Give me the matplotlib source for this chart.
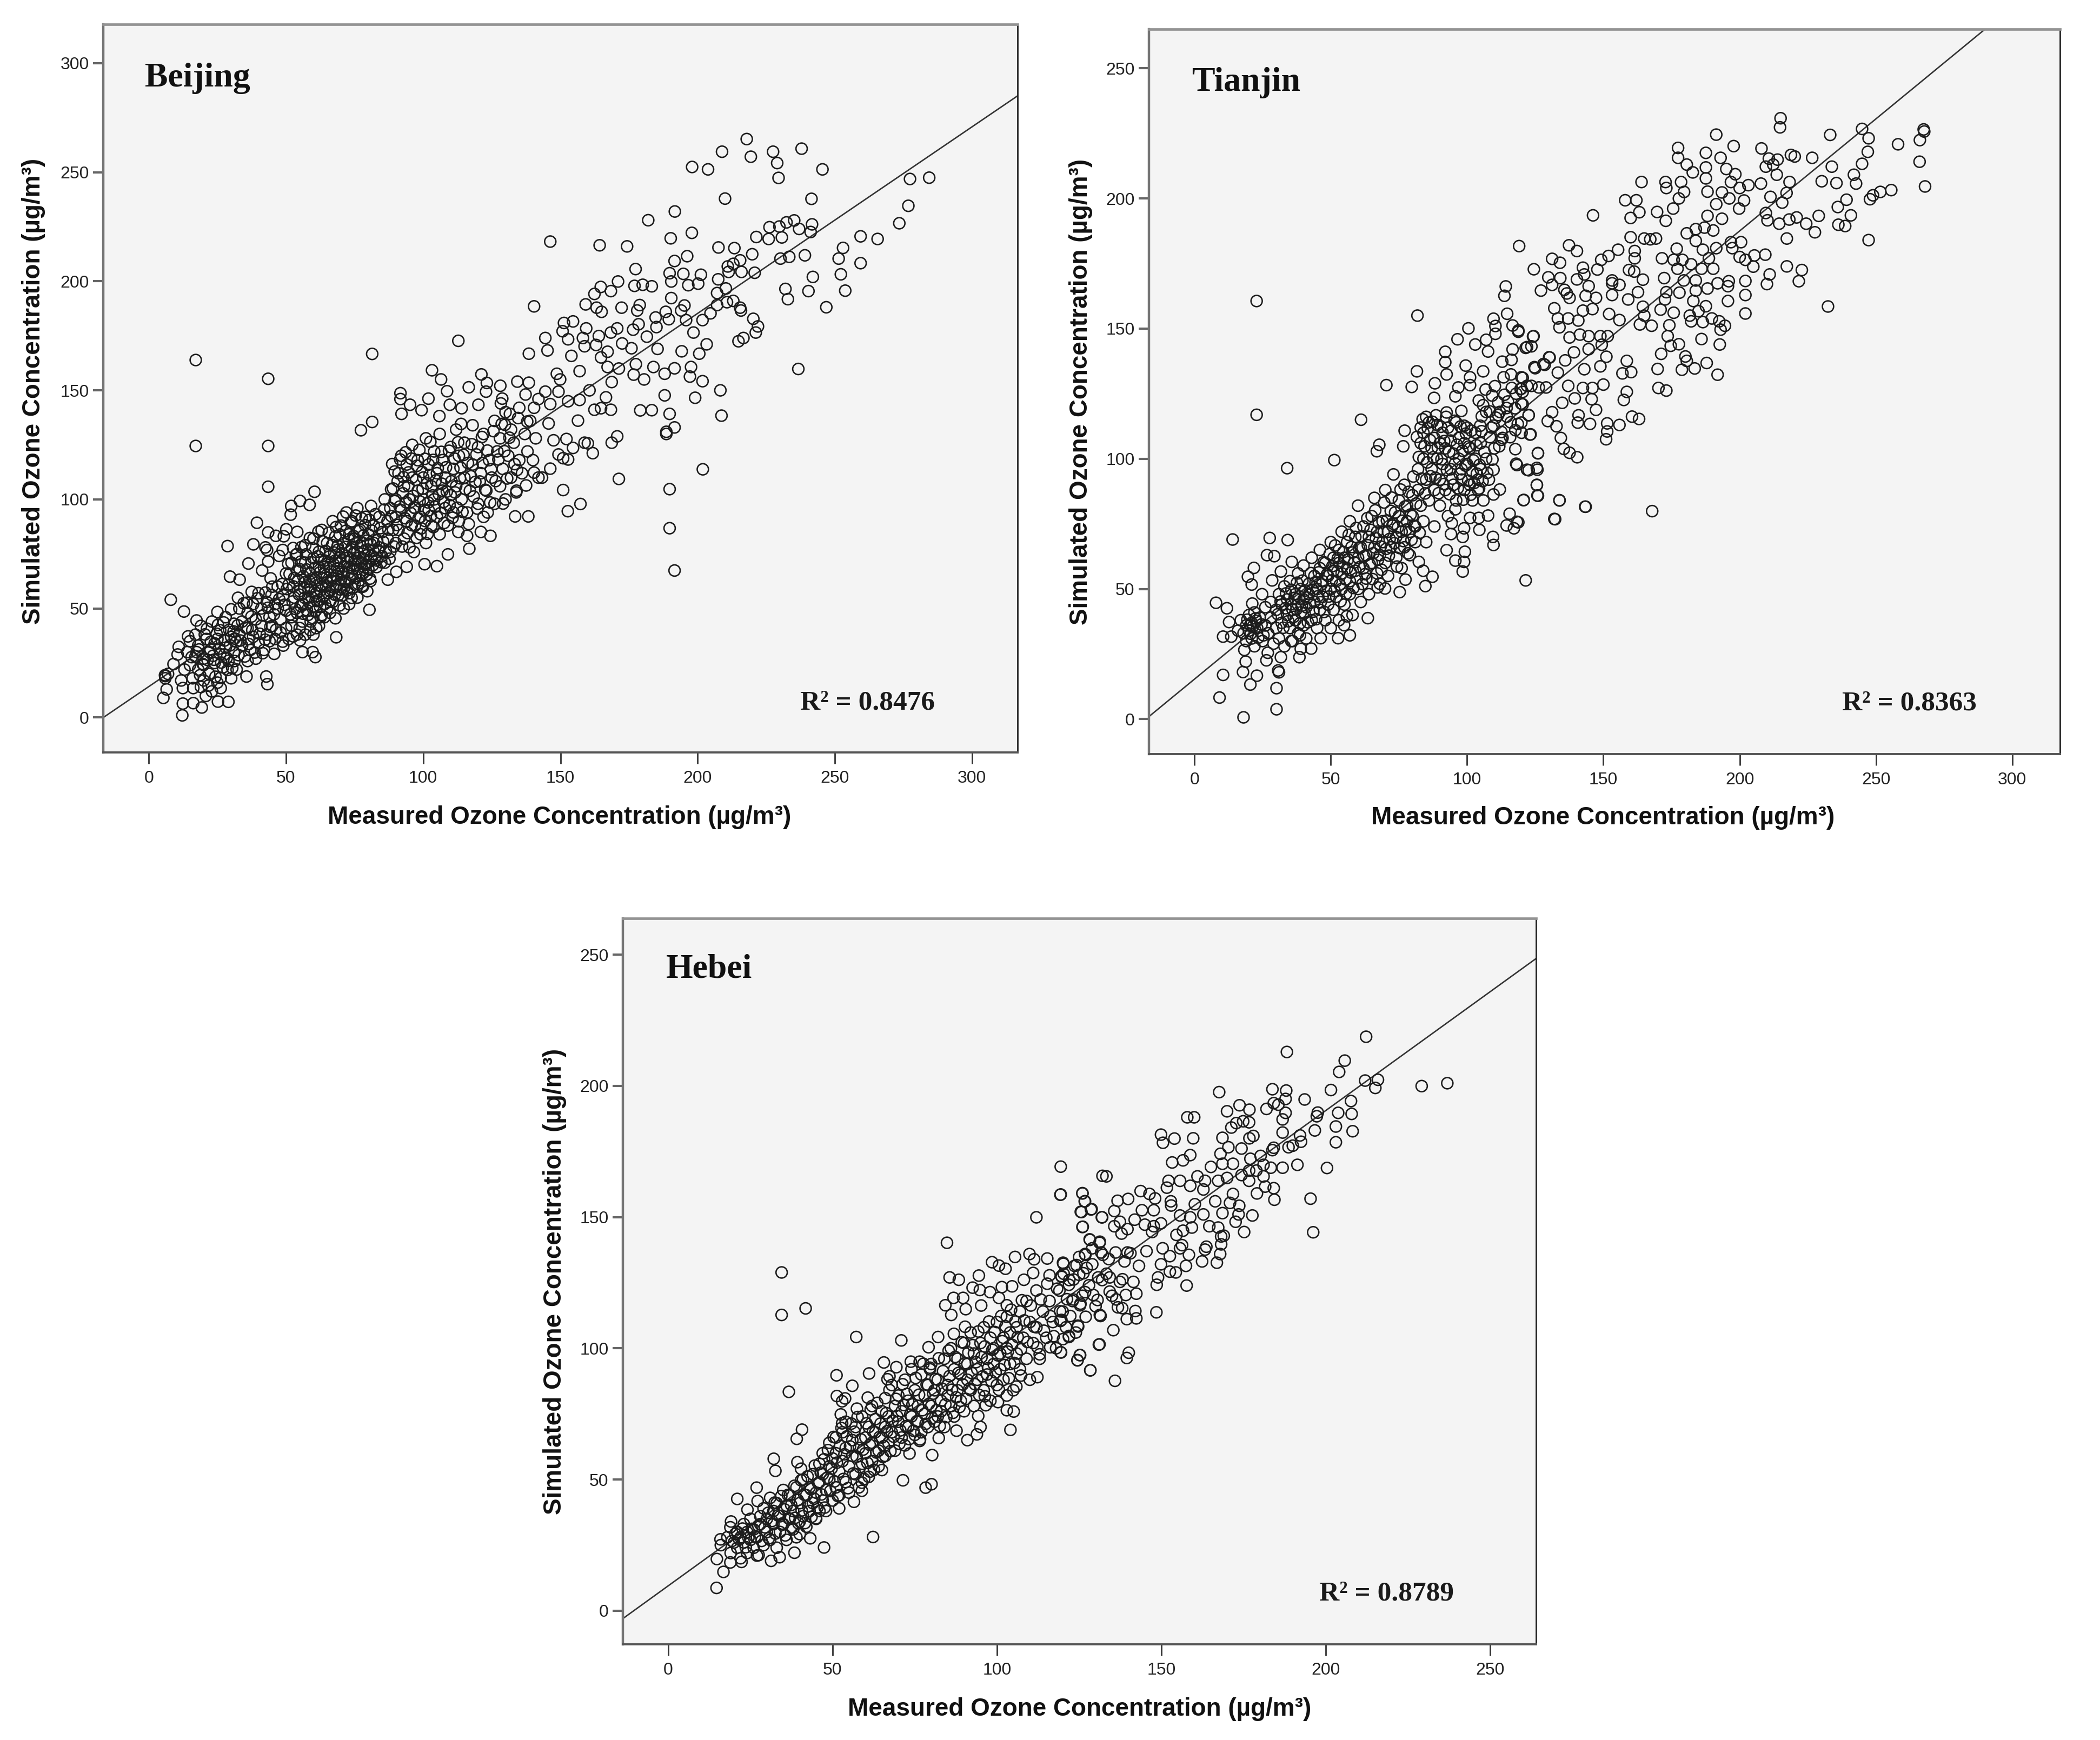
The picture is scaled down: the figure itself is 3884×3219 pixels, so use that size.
import matplotlib
matplotlib.use("Agg")
import matplotlib.pyplot as plt

W, H = 3884, 3219
DPI = 100
X_LABEL = "Measured Ozone Concentration (µg/m³)"
Y_LABEL = "Simulated Ozone Concentration (µg/m³)"

# ---------- Beijing ----------
bj_name = "Beijing"
bj_r2 = "R² = 0.8476"
bj_xticks = [0, 50, 100, 150, 200, 250, 300]
bj_yticks = [0, 50, 100, 150, 200, 250, 300]
bj_fit_x = [-16.6, 316.6]
bj_fit_y = [0, 285]
bj_high = [(217.9,265.2),(208.9,259.4),(219.4,257.1),(227.5,259.4),(229,254.2),(237.9,260.8),(245.5,251.3),(229.5,247.4),(198,252.4),(203.8,251.3),(210,237.9),(241.5,237.8),(277.4,246.9),(284.4,247.5),(276.8,234.6),(273.5,226.6),(265.6,219.4),(259.4,220.6),(253,215.3),(251.4,210.4),(259.4,208.3),(252.2,203.2),(253.8,195.7),(246.9,188.1),(242,202),(240.4,195.5),(232,196.5),(232.9,191.8),(239.1,211.9),(233.4,211.2),(230.2,210.4),(241.7,226.1),(241.2,222.6),(237,224),(235.2,227.9),(232.4,227),(229.8,225.1),(226.2,224.8),(230.7,220.1),(225.9,219.4),(221.4,220.3),(236.7,159.8),(219.9,212.4),(213.4,215.2),(207.6,215.5),(215.5,209.6),(213,208),(211,206.8),(211.3,204.3),(216,204.3),(220.8,203.9),(207.5,200.9),(210.3,196.7),(207.1,194.6),(213,191),(210.7,190.4),(215.5,187.9),(215.8,186.6),(207.1,189.1),(204.7,185.3),(201.8,182.2),(198.5,176.5),(203.3,171.1),(200.6,166.8),(194.2,167.9),(220.3,182.8),(222,179.3),(221.2,176.5),(216.7,174),(214.9,172.5),(208.3,150),(208.7,138.4),(199.1,146.6),(201.8,154.2),(197.6,160.7),(197.2,156.3),(189.8,139.2),(188,147.7),(191.6,133),(188.6,131),(183.3,140.9),(179.1,140.8),(146.3,218.2),(164.3,216.5),(174.3,216),(182,228),(191.7,232),(190.2,219.7),(197.9,222.2),(196.2,211.5),(191.6,209.3),(177.4,205.6),(189.8,203.7),(194.8,203.4),(201.2,203),(190.4,199.9),(196.6,198.2),(200.2,198.9),(183.3,197.7),(180,198.4),(177,197.9),(171,199.9),(168.4,195.5),(164.7,197.4),(162.4,194.2),(159.2,189.4),(163.2,187.9),(165,186),(172.3,187.9),(178.9,189.1),(178,186.6),(190.4,192.3),(195.2,188.9),(194,186.6),(188.4,186),(184.7,183.4),(189.5,182.6),(195.8,182.2),(185,179),(178.5,180.3),(176.5,177.8),(170.7,178.4),(168.4,176.5),(164,174.9),(159.4,178.4),(154.6,181.6),(151.3,180.9),(150.8,177.1),(152.8,173.4),(158.2,174),(158.8,170.2),(163,170.8),(172.5,171.5),(175.9,169.3),(185.4,169),(181.5,174.6),(167.2,167.7),(154,165.8),(144.5,174),(145.3,168.3),(176.7,157.2),(180.5,155),(188,157.6),(191.6,160.1),(183.9,160.7),(177.5,162),(171.3,160),(167.2,160.7),(164.8,165.1),(157,158.8),(148.7,157.6),(149.9,155),(160.6,150),(166.6,146.8),(168.7,153.8),(168.4,141.1),(164.8,141.8),(162.4,141.1),(157,145.6),(152.8,145),(149.3,149.4),(144.5,149.4),(145.7,134.8),(156.4,136.1),(146.3,143.7)]
bj_right = [(201.9,113.8),(171.3,109.4),(189.8,104.7),(189.8,86.8),(191.6,67.4),(151,104.3),(157.3,97.9),(152.7,94.6),(161.8,121.2),(188.6,130),(168.7,126),(170.7,128.9),(160,125.7),(158.8,126),(152.8,118.3),(151,118.9),(149.3,120.6),(147.5,127.1),(146.3,114.1),(143.3,110),(152.2,127.7),(154.6,123.6)]
bj_upper = [(17.1,163.9),(43.5,155.3),(81.4,166.7),(112.8,172.7),(140.4,188.5),(103.2,159.2),(106.5,155),(108.7,149.6),(116.6,151.4),(121.2,157.3),(123.2,153.4),(122.9,149.4),(128.1,152.1),(134.3,154),(138.5,153.5),(138.5,166.8),(101.9,146.2),(95.2,143.4),(91.7,148.7),(91.7,146),(92.1,139.2),(99.4,140.9),(105.9,138.2),(109.7,143.4),(114,141.8),(113.8,134.6),(120.1,143.4),(81.4,135.5),(128.8,146.2),(128.3,144),(137.3,148.1),(140.4,142),(131.6,139.2),(129.8,134.2),(137.9,135.7),(77.3,131.7),(17.1,124.5),(43.5,124.5),(43.5,105.8),(60.4,103.5)]
bj_edges = [(8,54),(12.8,48.6),(17.4,44.5),(14.3,37.2),(25,48.4),(28.7,78.6),(38.1,79.4),(39.4,89.3),(43.5,84.9),(51.9,97),(51.7,93),(55.1,99.3),(58.6,97.5),(54.1,85.1),(50.1,86.3),(49.2,83.1),(46.3,83.3),(42.5,78),(43.1,76.8),(52.6,77.7),(48.8,76.8),(47.5,74.1),(43.5,71.5),(36.3,70.6),(41.3,67.4),(29.6,64.6),(33.1,63.2),(44.4,63.8),(37.5,57.6),(42.5,57.3),(32.5,54.9),(30,49.6),(35.6,52.6),(25.2,42.5),(21.2,40.7),(10.9,32.4),(10.5,28.9),(9,24.5),(5.9,19.4),(6.5,12.9),(5.3,9),(12.4,6.4),(16.2,6.6),(12.2,1),(19.3,4.6),(25.2,7.3),(29,7.2),(20.8,9.9),(26.2,13.5),(16.2,13.5),(11.8,17),(12.4,13.5),(18.7,19.4),(26.2,18.2),(28.7,21.8),(31.2,25.9),(27.5,28.9),(23.7,26.5),(17.4,30),(15.6,27.7),(20,24.1),(22.5,31.2),(25,36),(31.9,34.8),(30.9,39.5),(36.3,36),(36,25.9),(35.6,18.8),(42.8,18.8),(43.2,15.3),(41.5,29.5),(45.7,29.2),(48.8,34.8),(55.1,35.4),(56,30),(59.7,30),(60.7,27.7),(68.3,36.8),(68,45.5),(58.8,40.1),(52.6,37.2),(80.4,49.4),(73.9,54.9),(69.5,51.4),(62.6,46),(79.6,57.9),(87.1,63.2),(80.8,62.6),(90.2,66.8),(94,69.1),(100.5,70.3),(105,69.4),(109,74.8),(116.8,77.4),(124.5,83.3),(121,85.1),(116,83.3),(112.8,85.1),(123.5,94),(133.5,92.2),(138.3,92.2),(129.1,98.1),(133.9,103.2),(137.5,106.4),(140.4,112.3),(134.2,113.5)]
bj_core = [(46,52),(47,60),(48,45),(49,56),(50,66),(50,49),(51,61),(52,42),(52,71),(53,55),(53,64),(54,48),(54,75),(55,58),(55,68),(56,44),(56,52),(57,62),(57,79),(57,71),(58,55),(58,47),(59,66),(59,60),(60,82),(60,73),(60,51),(61,41),(61,57),(61,64),(62,69),(62,76),(62,54),(63,60),(63,47),(63,86),(64,66),(64,72),(64,56),(65,80),(65,62),(65,50),(66,69),(66,58),(66,75),(67,64),(67,90),(67,53),(68,72),(68,60),(68,83),(69,67),(69,77),(69,56),(70,63),(70,88),(70,71),(71,59),(71,80),(71,66),(72,74),(72,94),(72,62),(73,69),(73,84),(73,57),(74,78),(74,65),(74,90),(75,72),(75,61),(75,82),(76,68),(76,76),(76,96),(77,86),(77,63),(78,73),(78,80),(78,66),(79,92),(79,70),(80,77),(80,84),(80,68),(81,74),(81,97),(82,88),(82,80),(83,72),(83,69),(84,92),(84,78),(85,85),(85,74),(86,100),(86,71),(87,82),(87,90),(88,76),(88,96),(89,86),(89,105),(90,80),(90,92)]
bj_core2 = [(47.5,54.3),(48.6,61.2),(49.4,51.7),(50.3,58.9),(50.8,70.4),(51.6,47.3),(51.3,65.8),(52.4,53.2),(52.7,60.1),(53.4,49.8),(53.6,74.6),(54.2,67.3),(54.7,56.4),(54.4,62.9),(55.3,51.2),(55.6,78.1),(55.4,71.5),(56.2,47.6),(56.6,59.3),(56.3,64.7),(56.8,54.9),(57.3,74.8),(57.6,49.2),(57.4,67.9),(58.2,58.6),(58.4,52.8),(58.6,62.4),(58.7,82.3),(59.3,71.2),(59.6,45.7),(59.4,55.1),(59.7,77.6),(60.2,63.3),(60.4,57.8),(60.6,68.7),(60.8,48.9),(61.3,53.4),(61.6,73.9),(61.4,60.6),(61.8,85.2),(62.2,66.4),(62.4,50.7),(62.6,58.2),(62.8,72.3),(63.2,63.7),(63.4,80.8),(63.6,55.3),(63.8,68.9),(64.2,52.1),(64.4,76.4),(64.6,60.4),(64.8,64.2),(65.2,70.6),(65.4,57.1),(65.6,84.7),(65.8,73.8),(66.2,53.6),(66.4,62.8),(66.6,66.9),(66.8,79.1),(67.2,59.7),(67.4,70.2),(67.6,75.6),(67.8,56.3),(68.2,87.3),(68.4,64.9),(68.6,68.4),(68.8,78.6),(69.2,61.2),(69.4,73.1),(69.6,83.9),(69.8,58.7),(70.2,66.7),(70.4,75.4),(70.6,55.9),(70.8,92.1),(71.2,69.3),(71.4,62.7),(71.6,78.2),(71.8,85.6),(72.2,58.3),(72.4,71.6),(72.6,66.1),(72.8,81.7),(73.2,76.2),(73.4,63.5),(73.6,89.4),(73.8,72.4),(74.2,59.2),(74.4,68.3),(74.6,83.2),(74.8,75.6),(75.2,64.8),(75.4,92.6),(75.6,70.1),(75.8,79.8),(76.2,61.3),(76.4,85.4),(76.6,73.2),(76.8,66.4),(77.2,78.7),(77.4,70.6),(77.6,91.3),(77.8,60.4),(78.2,83.4),(78.4,76.1),(78.6,68.8),(78.8,88.2),(79.2,74.3),(79.4,65.6),(79.6,81.1),(80.2,71.4),(80.4,90.6),(80.6,63.7),(80.8,79.6),(81.2,85.7),(81.6,69.8),(81.8,76.4),(82.3,72.9),(82.6,93.2),(83.2,81.3),(83.6,76.7),(84.3,86.8),(84.7,71.2),(85.4,80.6),(85.8,95.3),(86.4,76.3),(87.3,86.2),(87.7,72.8),(88.4,92.3),(89.3,78.4),(89.6,99.2)]
bj_mid = [(90,100),(91,112),(91,86),(92,120),(92,95),(93,82),(93,106),(94,90),(94,116),(95,100),(95,78),(96,110),(96,125),(97,88),(97,96),(98,104),(98,118),(99,84),(99,92),(100,110),(100,100),(101,128),(101,80),(102,95),(102,116),(103,106),(103,88),(104,122),(104,100),(105,112),(105,92),(106,84),(106,130),(107,104),(107,118),(108,96),(108,110),(109,88),(110,124),(110,102),(111,94),(111,114),(112,106),(112,132),(113,90),(113,120),(114,100),(115,110),(115,126),(116,94),(117,104),(118,116),(118,134),(119,108),(120,98),(120,124),(121,112),(122,92),(122,130),(123,104),(124,118),(125,110),(126,136),(126,98),(127,122),(128,106),(128,128),(129,114),(130,100),(130,140),(131,120),(132,110),(132,132),(133,126),(134,104),(135,118),(135,142),(136,112),(137,130),(138,122),(139,136),(140,118),(141,128),(142,146),(142,110)]
bj_mid2 = [(88.3,104.6),(88.7,116.2),(89.6,112.8),(90.4,88.3),(90.7,108.4),(91.4,96.7),(91.6,118.3),(92.3,78.4),(92.6,102.8),(92.8,110.2),(93.3,91.4),(93.6,121.6),(93.8,98.7),(94.3,84.6),(94.6,106.2),(94.7,112.4),(95.4,93.8),(95.6,118.7),(95.8,88.2),(96.3,101.6),(96.6,75.9),(96.7,96.3),(97.4,108.9),(97.6,82.4),(97.7,115.4),(98.3,91.3),(98.6,122.7),(98.7,99.1),(99.3,86.7),(99.6,112.6),(99.8,104.9),(100.3,95.2),(100.6,118.6),(100.7,90.1),(101.4,107.3),(101.6,84.2),(101.8,98.6),(102.3,111.2),(102.6,126.4),(102.8,92.3),(103.4,101.8),(103.6,118.1),(103.7,87.3),(104.3,96.6),(104.6,108.7),(105.3,114.3),(105.7,102.4),(106.3,93.7),(106.6,121.8),(106.8,107.2),(107.4,98.8),(107.6,89.2),(108.3,114.7),(108.6,103.6),(109.4,122.3),(109.6,97.4),(110.3,108.3),(110.7,91.6),(111.4,118.7),(111.6,103.2),(112.4,96.2),(112.7,126.2),(113.4,109.7),(113.6,114.6),(114.3,94.3),(114.7,120.4),(115.4,104.7),(116.3,116.7),(116.6,88.7),(117.4,110.6),(117.7,125.3),(118.4,101.3),(119.4,120.6),(119.7,95.8),(120.6,108.2),(121.4,128.6),(121.6,116.7),(122.6,104.4),(123.4,122.4),(124.4,98.6),(124.7,113.8),(125.6,131.3),(126.4,108.4),(127.4,118.3),(128.6,134.6),(129.6,122.1),(130.6,109.6),(131.4,128.3),(133.3,116.2),(134.6,137.3)]
bj_low = [(6,19),(7,20),(6,18),(13,22),(14,30),(15,24),(15,35),(16,18),(17,28),(17,38),(18,22),(18,33),(19,14),(19,42),(20,27),(20,17),(21,36),(22,30),(22,20),(23,44),(23,12),(24,25),(24,34),(25,16),(26,40),(26,29),(27,23),(28,32),(28,46),(29,26),(30,37),(30,18),(31,43),(31,30),(32,22),(33,50),(33,38),(34,33),(34,44),(35,28),(36,48),(36,41),(37,31),(38,52),(38,37),(39,45),(39,27),(40,34),(40,57),(41,42),(41,50),(42,31),(43,38),(43,53),(44,46),(44,35),(45,60),(45,42),(46,36),(47,50),(48,39),(49,33),(50,41),(51,36),(52,46),(54,38),(55,41),(57,38),(59,44),(60,38),(62,42),(64,46),(66,48),(71,50),(73,52),(76,55),(78,60)]
bj_low2 = [(18.3,31.2),(19.6,24.6),(20.4,38.1),(21.4,26.4),(21.7,14.6),(22.6,34.7),(23.4,28.3),(24.3,18.7),(24.7,38.4),(25.6,31.6),(26.4,25.2),(27.3,43.6),(27.6,35.3),(28.4,27.4),(29.3,40.2),(29.6,33.1),(30.4,22.7),(31.3,36.2),(32.4,42.3),(32.7,28.6),(33.4,35.3),(34.6,52.4),(35.3,41.2),(36.4,33.7),(37.4,46.3),(37.7,40.1),(38.6,29.8),(39.6,54.7),(40.4,38.4),(41.6,46.8),(42.4,35.7),(43.4,50.3),(44.3,41.6),(44.7,56.2),(45.6,47.3),(46.4,40.3)]

# ---------- Tianjin ----------
tj_name = "Tianjin"
tj_r2 = "R² = 0.8363"
tj_xticks = [0, 50, 100, 150, 200, 250, 300]
tj_yticks = [0, 50, 100, 150, 200, 250]
tj_fit_x = [-16.7, 290]
tj_fit_y = [1, 265]
tj_high = [(215,230.8),(214.8,227.3),(233.2,224.4),(244.9,226.7),(247.3,223.1),(247,217.9),(244.9,213.3),(258.1,220.8),(267.5,226.5),(267.7,225.7),(266.1,222.4),(266,214.1),(268,204.6),(255.6,203.2),(251.6,202.5),(248.9,201.2),(247.8,199.7),(247.3,184),(239.2,199.5),(236,196.7),(240.8,193.5),(236.2,189.9),(238.7,189.4),(229,193.3),(227.6,187),(224.4,190.3),(220.9,192.7),(218.2,191.9),(214.5,190.3),(217.3,184.6),(210.2,191.6),(209.6,194.4),(215.6,198.4),(211.3,200.6),(217.2,202.1),(218.3,206.3),(230.1,206.6),(235.5,205.9),(242.7,205.7),(241.9,209.1),(233.8,212.2),(226.6,215.6),(220.2,216.1),(218.8,216.7),(213.9,214.9),(210.7,215.3),(208,219.2),(212.3,213),(209.6,212.2),(213.6,209.1),(207.8,205.7),(203.2,205.1),(200,204),(198.4,209.3),(196.8,206.3),(197.8,220.1),(195.1,211.3),(193,215.6),(191.4,224.5),(187.6,217.5),(187.6,211.9),(187.6,207.7),(188.2,202.6),(182.8,210),(180.6,213),(177.4,219.4),(177.4,215.6),(178.5,206.3),(179.6,202.5),(177.7,200),(175.6,196.1),(172.8,206.3),(173.1,204),(169.7,194.8),(172.9,191.4),(164,206.3),(158,199.3),(162.1,199.3),(163.2,194.7),(160,192.5),(146.2,193.5),(160,185.1),(165,184.6),(167.2,184.3),(169.3,184.6),(119.1,181.7),(137.4,182),(140.3,179.8),(131.2,176.8),(134.1,175.3),(124.5,172.8),(155.4,180.3),(151.9,177.9),(149.2,176.4),(147.8,172.7),(142.5,173.4),(143,170.8),(140.3,168.9),(129.8,169.7),(134.2,169.4),(131.2,166.8),(127.1,164.6),(135.7,164.9),(136.6,163.5),(137.6,161.8),(144.6,166.3),(143.5,162.6),(147.3,161.8),(153.2,168.5),(153.2,167.4),(155.9,166.8),(153.2,162.9),(159.1,161.2),(162.7,164),(161.5,177),(161.5,179.8),(159.4,172.5),(161.3,171.9),(164.5,168.8),(171.5,177),(176.9,180.7),(175.8,176.4),(179,176.4),(182.2,174.7),(177.2,173),(172.3,169.4),(179.5,168.5),(177.9,163.8),(183.9,168.5),(183.9,164.6),(183,160.6),(188.2,165.4),(191.9,167.4),(196,168.2),(195.7,166.3),(195.7,160.6),(202.1,168.3),(202.1,162.9),(202.1,155.8),(205,173.8),(205.4,178.1),(209.4,178.4),(211,170.8),(210,167.1),(217.3,173.9),(222.8,172.5),(221.7,168.2),(232.4,158.5),(200.5,183.2),(196.8,183.2),(197.3,180.9),(200,177.5),(202.1,176.4),(190.3,173),(186,173),(188.7,177),(191.4,180.9),(186.5,180.3),(183.9,183.7),(180.6,186.6),(183.9,188.2),(187.1,188.8),(190.3,187.7),(193.5,192.2),(188.2,193.3),(191.4,197.8),(193.5,202.3),(196.2,200),(201.6,199.2),(199.8,196.1)]
tj_mid = [(173.1,164),(172.6,161.2),(171,157.3),(175.8,156.1),(164.5,158.4),(165,155),(152.1,155.6),(155.9,153.3),(163.4,151.6),(167.7,151.1),(174.2,151.3),(181.7,155),(182.2,152.8),(184.9,156.7),(187.6,158.6),(186.5,152.5),(189.8,153.9),(192.5,152.8),(194.6,151.1),(193,149.6),(186,146),(192.7,143.9),(173.6,147.1),(177.7,144),(174.7,143.4),(171.2,140.3),(180.1,139.3),(180.6,137.6),(187.9,136.8),(183.5,134.7),(178.8,134.2),(169.9,134.5),(191.9,132.3),(158.6,137.6),(160.2,133.3),(157,132.8),(170.2,127.2),(173.1,126.2),(158.6,125.7),(157.5,122.6),(160.5,116.2),(163.1,115.3),(155.9,113),(151.4,113.6),(151.4,110.5),(151,107.5),(145.1,113.4),(140.6,113.9),(140.9,116.7),(147.3,118.8),(145.7,122.9),(150,128.5),(146,127.2),(142.5,127.2),(139.5,123.2),(134.9,121.5),(137.1,128),(131.2,117.9),(129.6,114.5),(132.8,112.5),(134.4,108),(135.5,103.8),(137.6,102.3),(140.4,100.6),(126,102.1),(125.6,96.5),(122.6,95.6),(118.3,97.6),(125.6,89.9),(126,85.8),(120.7,84.1),(133.9,84.1),(143.5,81.6),(167.9,79.9),(132.3,76.8),(118.8,75.6),(126.3,127.4),(123.6,128),(129,127.4),(125,134.8),(120.4,131.1),(119.9,126.9),(120.4,120.9),(122.6,116.8),(119.9,113.9),(123.3,109.4),(133.3,133.1),(128.5,136.1),(130.3,138.9),(136,137.8),(139.2,140.9),(143,134.4),(148.9,135.5),(151.1,139.2),(149.4,143.8),(144.6,142.1),(144.6,147.1),(141.4,147.7),(137.6,146.6),(148.9,147.1),(151.6,147.1),(133.9,150.5),(133.3,153.9),(137.1,153.9),(140.8,153.1),(142.5,156.9),(146,157.5),(132,157.8),(124.4,147.1),(123.6,143.2),(121.5,142.6),(118.8,148.8)]
tj_edges = [(22.8,160.6),(22.8,116.9),(81.8,155),(81.6,133.6),(70.4,128.3),(79.7,127.6),(61.1,115),(51.3,99.5),(34,96.4),(67.8,105.4),(66.9,102.9),(76.6,104.8),(77.1,110.8),(14,69),(27.6,69.6),(34.2,68.8),(26.6,63),(29.3,62.6),(21.8,58.1),(19.6,54.7),(21,51.7),(24.8,48),(28.5,53.3),(31.7,56.7),(35.7,60.4),(21.2,44.4),(7.9,44.7),(11.9,42.6),(12.7,37.3),(10.5,31.7),(13.5,31.7),(20.4,36.1),(22.6,37.8),(18.3,26.6),(18.8,22.1),(17.8,18.1),(10.5,17),(22.9,16.7),(20.5,13.3),(30.7,18.7),(31,18),(30.1,11.9),(9.2,8.3),(30.1,3.8),(18,0.7),(26.4,22.6),(26.9,25.5),(31.7,23.8),(38.5,23.8),(42.8,27.1),(52.7,31.1),(57,32.2),(63.6,38.8),(38.7,32.2),(35.5,30),(25.3,32.2),(46.3,31.1),(55.9,39.5),(54.9,36.1),(121.5,53.3),(98.4,56.7),(98.9,60.4),(95.7,60.9),(99.2,64.3),(92.5,64.9),(87.3,54.7),(84.7,51.1),(83.9,57),(82.3,60.4),(75.3,48.8),(77.4,53.6),(69.9,50.2),(67.2,50.6),(109.7,66.9),(109.5,70),(104.5,72.7),(98.9,73.3),(98.4,70),(94.1,71.1),(94.4,75.3),(95.7,80.6),(101.1,77.3),(104.3,77.3),(107.7,78.2),(115.6,78.9),(114.5,74.4),(117.2,73.3),(118.3,75.8),(132,76.9),(143.3,81.6),(133.9,84),(125.8,85.9),(120.8,84.2),(125.6,90),(109.7,86.3),(112,88.2),(122,95.8),(125.8,95.8),(118,98.1),(126,102.2),(109.7,95.8),(117.7,103.7)]
tj_upper = [(85,116.1),(92.5,117.8),(88.2,129),(87.9,123.4),(92,141.1),(92,137.1),(92.5,132.4),(99.5,135.8),(96.5,145.9),(100.5,150.1),(103,143.9),(107,145.7),(107.7,141.2),(109.7,153.8),(110.4,151),(110.4,148),(114.7,155.7),(113.7,162.6),(114.2,166.2),(116.7,151.2),(118.8,149.3),(124.2,147),(122,142.9),(116.7,142),(116.3,138),(112.9,137.3),(105.9,133.6),(101.1,131.3),(101.1,128.3),(110.2,127.9),(113.4,131.3),(116.1,132.4),(119.9,131.3),(119.6,126.8),(124.7,135.2),(128,136.4),(130.1,139),(96.8,127.4),(95.7,124),(97.9,118.4),(105.9,120.6),(114.5,119.5),(119.9,121.2),(122.6,116.7),(117.7,111),(123.1,109.3),(111.8,104.8),(98.9,112.7),(104.8,112.7),(109.7,112.7),(104.3,122.4),(105.4,116.3),(106.8,126.6),(108.3,118.2),(109.2,124.3),(110.6,115.8),(111.4,121.7),(112.6,110.3),(113.7,124.6),(114.6,116.2),(115.8,108.3),(116.4,127.2),(117.6,119.4),(118.6,113.4),(120.4,125.7)]
tj_core = [(16,34),(17,38),(18,33),(19,36),(19,30),(20,40),(20,34),(21,37),(21,31),(22,41),(22,28),(23,35),(24,39),(25,30),(26,43),(26,36),(27,33),(28,45),(28,39),(29,29),(30,42),(30,35),(31,48),(31,31),(32,37),(32,44),(33,51),(33,28),(34,40),(34,46),(35,35),(35,53),(36,42),(36,30),(37,48),(37,38),(38,56),(38,33),(38,44),(39,50),(39,41),(39,27),(40,46),(40,36),(40,59),(41,43),(41,31),(42,52),(42,48),(43,38),(43,62),(44,45),(44,55),(45,35),(45,50),(46,58),(46,42),(46,65),(47,47),(47,53),(48,38),(48,60),(49,44),(49,55),(50,68),(50,50),(50,35),(51,62),(51,57),(51,42),(52,47),(52,53),(53,65),(53,60),(53,38),(54,72),(54,50),(54,56),(55,44),(55,62),(56,58),(56,68),(57,53),(57,48),(57,76),(58,64),(58,40),(59,57),(59,70),(60,50),(60,62),(60,82),(61,45),(61,66),(62,58),(62,74),(63,54),(63,63),(64,70),(64,48),(65,60),(65,78),(66,66),(66,85),(67,56),(67,72),(68,63),(68,52),(69,76),(69,68),(70,88),(70,60),(71,72),(71,55),(72,80),(72,66),(73,75),(73,94),(74,62),(74,70),(75,84),(75,78),(76,58),(76,72),(77,90),(77,66),(78,76),(78,82),(79,72),(79,63),(80,86),(80,78),(81,68),(81,74),(82,96),(82,88),(83,112),(83,106),(83,82),(84,76),(84,100),(84,110),(85,92),(85,68),(86,114),(86,84),(87,104),(87,96),(88,108),(88,74),(88,88),(89,100),(89,113),(90,106),(90,92),(90,82),(91,110),(91,98),(92,104),(92,88),(93,112),(93,78),(94,96),(94,107),(95,90),(95,102),(96,114),(96,84),(97,100),(97,108),(98,92),(98,96),(99,106),(99,88),(100,112),(100,98),(101,90),(101,104),(102,95),(102,84),(103,100),(103,110),(104,88),(104,92),(105,106),(105,96),(106,84),(107,118),(107,100),(108,92),(109,112),(110,104),(112,118),(113,108),(115,122),(116,114),(118,125),(120,110),(122,128)]
tj_core2 = [(19.4,38.2),(20.6,32.8),(21.4,35.6),(22.4,38.7),(23.4,31.3),(24.6,36.4),(30.6,40.3),(31.6,45.2),(32.6,35.1),(33.4,42.6),(33.6,48.3),(34.4,37.6),(35.4,44.2),(35.6,49.7),(36.4,39.3),(36.7,46.6),(37.4,42.2),(37.6,52.4),(38.4,47.1),(38.7,36.8),(39.4,43.6),(39.6,53.2),(40.4,40.7),(40.6,49.4),(41.4,46.7),(41.6,37.2),(42.4,44.6),(42.7,56.1),(43.4,49.7),(43.6,41.3),(44.4,52.6),(44.6,38.4),(45.3,47.2),(45.6,56.4),(46.3,44.9),(46.6,51.7),(47.4,60.3),(47.6,41.2),(48.3,49.3),(48.6,55.6),(49.3,47.1),(49.6,63.4),(50.4,53.3),(50.6,58.8),(51.4,49.2),(51.6,66.7),(52.4,56.7),(52.6,61.8),(53.3,51.6),(53.6,45.3),(54.3,58.7),(54.6,64.2),(55.4,53.7),(55.6,48.2),(56.3,61.4),(56.6,70.8),(57.4,56.3),(57.6,66.1),(58.3,50.4),(58.6,60.2),(59.3,73.4),(59.6,54.1),(60.4,65.7),(60.6,58.4),(61.3,70.3),(61.6,51.9),(62.3,62.6),(62.6,55.7),(63.4,77.2),(63.6,66.8),(64.3,59.4),(64.6,72.7),(65.3,53.8),(65.6,63.7),(66.3,80.2),(66.6,69.4),(67.3,61.2),(67.6,75.6),(68.3,66.3),(68.6,57.4),(69.4,71.8),(69.6,83.2),(70.3,65.4),(70.6,76.3),(71.3,62.8),(71.6,69.2),(72.3,85.1),(72.6,74.3),(73.3,67.6),(73.6,79.4),(74.3,58.6),(74.6,73.6),(75.3,65.7),(75.6,88.2),(76.3,76.2),(76.6,68.4),(77.3,81.7),(77.6,72.8),(78.3,63.7),(78.6,87.3),(79.3,78.6),(79.6,68.9),(80.3,93.2),(80.6,74.3),(81.3,82.8),(81.6,108.4),(82.3,100.7),(82.6,71.6),(83.4,92.4),(83.7,115.2),(84.4,104.8),(84.6,86.7),(85.4,98.6),(85.6,111.7),(86.4,107.2),(86.6,93.3),(87.3,114.2),(87.6,100.6),(88.4,92.7),(88.6,116.7),(89.3,104.3),(89.6,86.8),(90.4,112.3),(90.6,99.8),(91.4,90.3),(91.6,106.8),(92.3,116.1),(92.6,95.7),(93.4,102.7),(93.6,86.4),(94.3,110.8),(94.6,92.4),(95.4,114.6),(95.6,98.2),(96.3,105.4),(96.6,88.7),(97.3,94.2),(97.6,112.4),(98.3,103.1),(98.6,84.3),(99.4,97.4),(99.6,109.7),(100.4,91.6),(100.6,104.7),(101.3,86.2),(101.6,110.8),(102.3,99.4),(102.6,90.7),(103.4,105.2),(103.6,94.3),(104.4,88.6),(104.6,97.7),(105.3,110.6),(105.7,91.4),(106.4,102.6),(107.4,94.6),(108.4,108.3),(109.3,99.7),(111.4,116.8),(112.6,107.3)]

# ---------- Hebei ----------
hb_name = "Hebei"
hb_r2 = "R² = 0.8789"
hb_xticks = [0, 50, 100, 150, 200, 250]
hb_yticks = [0, 50, 100, 150, 200, 250]
hb_fit_x = [-13.8, 264]
hb_fit_y = [-3, 248.5]
hb_high = [(212.3,218.7),(188.2,212.9),(205.8,209.6),(204.1,205.3),(212,202),(215.9,202.3),(215.1,199.2),(229.2,199.9),(237,201),(201.6,198.4),(193.6,194.8),(207.7,194.2),(203.8,189.7),(207.9,189.3),(203.1,184.5),(208.2,182.7),(203.1,178.5),(196.7,183),(197.6,189.8),(197.3,188.4),(192.5,178.7),(192.2,181.1),(188.7,176.6),(190,177.2),(186.9,182.2),(186.9,187.2),(187.8,189.7),(187.8,195),(188,198.2),(183.8,198.7),(184.2,193.4),(185.6,192.8),(182,191.2),(167.6,197.6),(173.8,192.6),(176.8,190.9),(170,190.3),(176.7,186.1),(174.9,186.5),(172.8,185.8),(171.3,184.1),(157.9,188),(160,188),(149.9,181.4),(150.5,178.3),(154,179.9),(159.7,180),(168.6,180.2),(178,180.9),(176.8,180),(184.2,176.4),(170.4,176.6),(174.4,176.1),(168,174.1),(158.8,173.6),(156.6,171.6),(153.3,170.8),(119.4,169.2),(132.1,165.7),(133.3,165.5),(119.4,158.6),(126,159.1),(126.8,156),(128.8,153),(125.7,151.9),(126.1,146.3),(131.9,149.9),(135.7,152.3),(136.7,156.2),(139.9,156.9),(143.7,159.9),(146.4,158.8),(148.1,157.1),(144.1,152.6),(147.7,152.6),(141.9,149),(139.7,145.4),(137.4,148.2),(135.7,146.5),(137.9,143.7),(145,147.1),(147.7,146.5),(149.9,147.6),(147.2,144.3),(128.3,141.3),(131.2,140.2),(129,138.1),(131.7,136.5),(125,134.8),(126.8,135.9),(136.1,136.5),(139.7,136.5),(145.5,137),(150.4,138.1),(152.6,135.1),(155.7,138.1),(156.3,139.3),(158.4,135.6),(154.6,143.2),(156.6,144.8),(159.3,146),(158.8,149.9),(155.7,150.6),(162.8,151),(164.6,146.5),(167.3,146),(168.2,142.6),(169,142.9),(168.2,139.6),(167.9,135.9),(163.7,138.7),(163.3,137.6),(162.4,133.1),(166.9,132.6),(157.5,131.4),(157.7,123.9),(154.4,128.9),(152.6,129.2),(149.9,132),(148.6,124.2),(149,127),(148.5,113.7),(142.4,111.4),(142.1,114.2),(139.5,111.1),(138.1,115.3),(136.8,115.6),(131.5,112.3),(130.6,118.4),(135.4,106.9),(131.2,101.5),(140.1,98.3),(139.5,96.3),(125.2,97.4),(124.5,95.5),(128.4,91.6),(135.9,87.6),(124.7,108.3),(121.9,104.7),(119.4,98.5),(175.2,144.3),(172.6,148.2),(177.7,150.6),(173.5,151),(173.7,154.3),(170.9,155.4),(171.8,158.8),(166.4,156),(168.6,151.5),(162.8,160.5),(161,165.5),(163.3,163.8),(158.8,161.9),(155.7,163.8),(152.2,163.8),(151.7,161.2),(152.9,156),(153,154.4),(160.2,154.9),(165.1,169.1),(167.3,163.8),(170,164.9),(168.6,170.3),(171.8,170.3),(174.4,166),(176.7,163.8),(176.7,167.7),(177.1,172.2),(180.2,173.3),(183.8,175.5),(181.1,169.9),(178.9,167.7),(183.3,168.8),(186.9,168.8),(191.4,169.9),(200.4,168.7),(195.4,157),(196.2,144.2),(179.1,159),(181.1,165.5),(184.2,161),(184.4,156.6),(181.6,161.6),(120.1,132.6),(119.6,127.5),(123.6,131.4),(121.9,124.2),(126.3,128.6),(130.8,127),(134.3,127),(138.8,133.1),(143.2,131.4),(141.5,125.3),(137.4,125.3),(134.3,121.6),(139.2,120.3),(126.8,121.4),(123.2,118.6),(125.4,117),(119.2,114.1),(119.6,110.8),(120.1,103.5)]
hb_edges = [(34.5,128.9),(34.5,112.7),(41.8,115.2),(36.7,83.4),(57.2,104.3),(70.9,103),(84.8,140.2),(112,149.9),(119.3,158.5),(126,159),(126.7,156),(128.6,152.9),(125.5,152),(132,149.9),(126,146.2),(128.2,141.5),(51.2,89.7),(61.1,90.4),(56,85.7),(65.6,94.6),(51.3,81.8),(53.8,80.9),(52.9,79.8),(52.5,74.8),(52.9,71.4),(40.7,69),(39.1,65.5),(32.1,57.9),(32.6,53.3),(39.3,56.6),(40.4,54.1),(26.9,46.9),(21,42.6),(27.2,41.8),(24.1,38.5),(19.1,34),(18.9,31.8),(15.9,27.2),(14.8,19.7),(18.9,18.4),(16.8,14.8),(14.7,8.7),(22.3,18.6),(27.5,21.2),(31.3,19),(33.9,20.4),(38.4,22.1),(43.2,27.6),(47.4,24.1),(62.3,28.1),(40,29.2),(71.4,49.7),(78.3,46.9),(80.1,48.2),(80.3,59.3),(73.4,59.9),(56.5,41.5),(58.9,45.7),(58.9,48.8),(52,39),(44.9,35.2),(65,53.6),(61.4,53),(104.1,68.9),(91,65),(93.9,67.2),(87.7,68.6),(82.3,65.8),(76.5,64.7),(105.1,75.9),(103,76.4),(100.3,79.5),(103,82),(105.9,85.4),(96.3,81.7),(94.3,74.2),(107.3,89.6),(112.3,89),(128.4,91.6),(124.5,95.4),(125.3,97.4),(119.5,98.4),(131,101.4),(113,97.7),(131.5,112.4),(124.6,108.6),(121.9,104.3),(116.2,100.4)]
hb_upper = [(105.5,134.8),(109.9,135.9),(115.3,134.2),(111.3,133.9),(98.5,132.8),(100.6,131.5),(102.6,130.3),(85.6,127),(88.4,126.1),(94.5,127.7),(92.6,123.1),(94.8,122.2),(97.9,121.4),(101.5,123.3),(104.6,123.6),(108.2,126.1),(111,128.7),(116,127.8),(120.2,132.2),(119.7,127.2),(124.2,131.7),(126.9,135.6),(131.3,140.6),(132.2,135.6),(86.8,119.2),(89.7,119.2),(84.3,116.4),(86.1,112.7),(90.5,114.9),(95.2,116.3),(100.6,119.2),(103,116.4),(90.3,108.2),(86.9,105.5),(82.1,104.3),(79.2,100.4),(76.5,94.9),(73.8,94.9),(69.4,92.8),(67.3,89.3),(79.6,92),(66.7,88.2),(60.7,81.2),(57.4,77)]
hb_core = [(16,25),(18,28),(19,22),(20,26),(21,30),(21,24),(22,20),(22,28),(23,33),(23,26),(24,22),(24,30),(25,27),(25,35),(26,24),(26,31),(27,28),(27,21),(28,36),(28,33),(29,25),(29,39),(30,30),(30,35),(31,27),(31,43),(32,33),(32,38),(33,24),(33,41),(34,30),(34,36),(35,46),(35,33),(36,27),(36,40),(37,35),(37,44),(38,31),(38,38),(39,47),(39,28),(40,41),(40,34),(41,36),(41,50),(42,44),(42,32),(43,38),(43,47),(44,52),(44,41),(45,35),(45,45),(46,56),(46,49),(46,38),(47,42),(47,60),(47,52),(48,46),(48,38),(49,64),(49,55),(49,50),(50,42),(50,58),(51,47),(51,66),(51,60),(52,53),(52,44),(53,68),(53,57),(54,49),(54,62),(54,72),(55,45),(55,55),(56,65),(56,59),(57,52),(57,70),(58,62),(58,47),(59,56),(59,74),(60,66),(60,60),(61,51),(61,70),(62,64),(62,78),(62,57),(63,68),(63,73),(64,61),(64,55),(65,76),(65,66),(66,70),(66,81),(66,59),(67,64),(67,74),(68,86),(68,68),(69,78),(69,61),(70,72),(70,82),(71,66),(71,76),(72,88),(72,63),(73,70),(73,80),(74,74),(74,92),(75,67),(75,84),(76,78),(76,72),(77,90),(77,68),(78,82),(78,75),(79,86),(79,70),(80,78),(80,94),(81,84),(81,72),(82,74),(82,88),(83,80),(83,76),(84,96),(84,70),(85,86),(85,82),(86,78),(86,100),(87,92),(87,74),(88,84),(88,96),(89,80),(89,90),(90,76),(90,102),(91,88),(91,94),(92,84),(92,106),(93,78),(93,98),(94,92),(94,88),(95,102),(95,70),(96,84),(96,108),(97,96),(97,90),(98,104),(98,80),(99,100),(99,94),(100,86),(100,110),(101,98),(101,92),(102,104),(102,88),(103,112),(103,100),(104,94),(104,106),(105,84),(106,108),(106,98),(107,114),(107,92),(108,104),(109,96),(109,118),(110,110),(110,88),(111,102),(112,122),(112,108),(113,96),(114,114),(115,104),(116,118),(117,110),(118,100),(119,122),(120,114),(121,108),(122,126),(123,118),(124,106),(125,128),(126,120),(127,112),(128,124),(129,132),(130,116),(132,126),(134,134),(135,120)]
hb_core2 = [(19.4,26.6),(20.4,29.3),(21.6,27.1),(22.6,31.3),(23.6,24.2),(24.4,27.8),(25.4,31.2),(26.4,28.3),(27.4,32.4),(28.4,26.6),(29.4,31.8),(30.4,37.3),(30.6,27.6),(31.6,34.2),(32.4,41.2),(32.6,29.4),(33.4,36.3),(34.4,43.7),(34.6,33.2),(35.4,38.6),(35.6,28.7),(36.4,44.1),(36.6,35.2),(37.4,40.3),(37.6,31.7),(38.4,47.6),(38.6,35.4),(39.4,42.2),(39.6,33.3),(40.4,49.7),(40.6,38.2),(41.4,44.2),(41.6,33.4),(42.4,51.2),(42.6,39.7),(43.4,46.3),(43.6,35.8),(44.4,42.7),(44.6,55.3),(45.4,39.4),(45.6,48.6),(46.4,52.6),(46.6,44.3),(47.4,57.7),(47.6,39.3),(48.4,50.7),(48.6,61.2),(49.3,45.6),(49.7,54.2),(50.3,66.2),(50.6,49.3),(51.3,56.4),(51.6,43.7),(52.3,62.8),(52.7,69.6),(53.3,50.2),(53.6,59.6),(54.3,66.4),(54.7,46.7),(55.3,62.6),(55.7,71.3),(56.3,52.3),(56.6,68.2),(57.3,58.7),(57.6,73.8),(58.3,54.7),(58.6,65.3),(59.3,61.4),(59.6,50.2),(60.3,71.4),(60.6,56.3),(61.3,63.2),(61.6,76.7),(62.3,68.3),(62.6,53.7),(63.3,60.3),(63.6,79.2),(64.3,66.2),(64.6,71.3),(65.3,58.6),(65.6,62.7),(66.3,75.3),(66.6,68.4),(67.3,84.1),(67.6,60.8),(68.3,72.4),(68.6,66.3),(69.3,80.7),(69.6,74.2),(70.3,63.6),(70.6,68.7),(71.3,86.3),(71.6,78.4),(72.3,70.3),(72.6,82.6),(73.3,65.4),(73.6,74.7),(74.3,78.6),(74.6,68.6),(75.3,88.7),(75.6,72.2),(76.3,82.3),(76.6,65.3),(77.3,76.4),(77.6,94.1),(78.3,71.2),(78.6,86.2),(79.3,78.8),(79.6,92.6),(80.3,73.4),(80.6,82.7),(81.3,88.3),(81.6,76.4),(82.3,96.2),(82.6,70.4),(83.3,84.6),(83.6,91.3),(84.3,78.6),(84.6,73.8),(85.3,99.1),(85.6,89.4),(86.3,84.2),(86.6,75.4),(87.3,96.7),(87.6,81.3),(88.3,90.6),(88.6,77.6),(89.3,102.3),(89.6,86.2),(90.3,94.3),(90.6,80.7),(91.3,98.4),(91.6,84.6),(92.3,90.6),(92.6,101.2),(93.3,86.3),(93.6,94.7),(94.3,106.4),(94.6,82.2),(95.3,96.6),(95.6,89.3),(96.3,100.7),(96.6,78.3),(97.3,92.4),(97.6,110.2),(98.3,87.6),(98.6,99.4),(99.3,106.2),(99.6,90.8),(100.3,97.3),(100.6,84.2),(101.3,112.3),(101.6,102.7),(102.3,93.6),(102.6,108.4),(103.3,98.7),(103.6,88.6),(104.3,114.7),(104.6,101.3),(105.3,94.4),(105.6,110.2),(106.3,104.3),(107.3,99.6),(107.6,118.3),(108.3,110.6),(109.3,102.4),(110.3,116.3),(111.3,108.2),(112.3,100.4),(113.3,118.6),(114.3,106.7),(115.3,124.6),(116.3,112.2),(117.3,104.6),(118.3,122.7),(119.3,110.4),(120.3,128.4),(121.3,118.7),(122.3,112.3),(123.3,126.2),(125.3,116.4),(127.3,130.6),(129.3,120.3),(131.3,112.7),(133.3,128.4),(136.3,118.6),(138.2,126.3),(140.6,136.2),(142.4,120.8)]

SANS = "Liberation Sans"
SERIF = "Liberation Serif"
fig = plt.figure(figsize=(W / DPI, H / DPI), dpi=DPI, facecolor="white")


def panel(rect_px, xlim, ylim, xticks, yticks, points, fit_x, fit_y, name, name_xy, r2, r2_xy, xl_xy, yl_xy):
    left, right, top, bottom = rect_px
    ax = fig.add_axes([left / W, 1 - bottom / H, (right - left) / W, (bottom - top) / H])
    ax.set_facecolor("#f4f4f4")
    ax.set_xlim(*xlim)
    ax.set_ylim(*ylim)
    ax.plot(fit_x, fit_y, color="#333333", lw=1.9, zorder=2)
    xs = [p[0] for p in points]
    ys = [p[1] for p in points]
    ax.scatter(xs, ys, s=225, facecolors="none", edgecolors="#1c1c1c", linewidths=1.9, zorder=3)
    ax.set_xticks(xticks)
    ax.set_yticks(yticks)
    ax.tick_params(axis="x", length=15, width=2, color="#333333", labelsize=23, labelcolor="#222222", pad=8.5)
    ax.tick_params(axis="y", length=14, width=3, color="#666666", labelsize=23, labelcolor="#222222", pad=5)
    for lab in ax.get_xticklabels() + ax.get_yticklabels():
        lab.set_fontfamily(SANS)
    for side, col, lw in (("top", "#939393", 3.4), ("left", "#757575", 3.2), ("bottom", "#555555", 2.8), ("right", "#222222", 2.0)):
        ax.spines[side].set_color(col)
        ax.spines[side].set_linewidth(lw)
    ax.set_xlabel(X_LABEL, fontfamily=SANS, fontweight="bold", fontsize=33, color="#111111")
    ax.set_ylabel(Y_LABEL, fontfamily=SANS, fontweight="bold", fontsize=33, color="#111111")
    ax.xaxis.set_label_coords(xl_xy[0], xl_xy[1])
    ax.yaxis.set_label_coords(yl_xy[0], yl_xy[1])
    ax.xaxis.label.set_verticalalignment("center")
    ax.yaxis.label.set_verticalalignment("center")
    ax.text(name_xy[0], name_xy[1], name, transform=ax.transAxes, fontfamily=SERIF, fontweight="bold",
            fontsize=46, color="#111111", ha="left", va="center")
    ax.text(r2_xy[0], r2_xy[1], r2, transform=ax.transAxes, fontfamily=SERIF, fontweight="bold",
            fontsize=37, color="#1a1a1a", ha="center", va="center")


panel((191, 1882, 45, 1392), (-16.6, 316.6), (-16, 317.8), bj_xticks, bj_yticks,
      bj_high + bj_right + bj_upper + bj_edges + bj_core + bj_core2 + bj_mid + bj_mid2 + bj_low + bj_low2, bj_fit_x, bj_fit_y,
      bj_name, (0.0454, 0.926), bj_r2, (0.836, 0.0677), (0.499, -0.0894), (-0.076, 0.496))
panel((2125, 3810, 54, 1395), (-16.7, 317.5), (-13.4, 265), tj_xticks, tj_yticks,
      tj_high + tj_mid + tj_edges + tj_upper + tj_core + tj_core2, tj_fit_x, tj_fit_y,
      tj_name, (0.047, 0.926), tj_r2, (0.8346, 0.07), (0.4985, -0.088), (-0.075, 0.5))
panel((1152, 2841, 1699, 3042), (-13.8, 264), (-12.8, 263.8), hb_xticks, hb_yticks,
      hb_high + hb_edges + hb_upper + hb_core + hb_core2, hb_fit_x, hb_fit_y,
      hb_name, (0.047, 0.93), hb_r2, (0.836, 0.0698), (0.5, -0.0897), (-0.0748, 0.5))

fig.savefig("out.png", dpi=DPI, facecolor="white")
